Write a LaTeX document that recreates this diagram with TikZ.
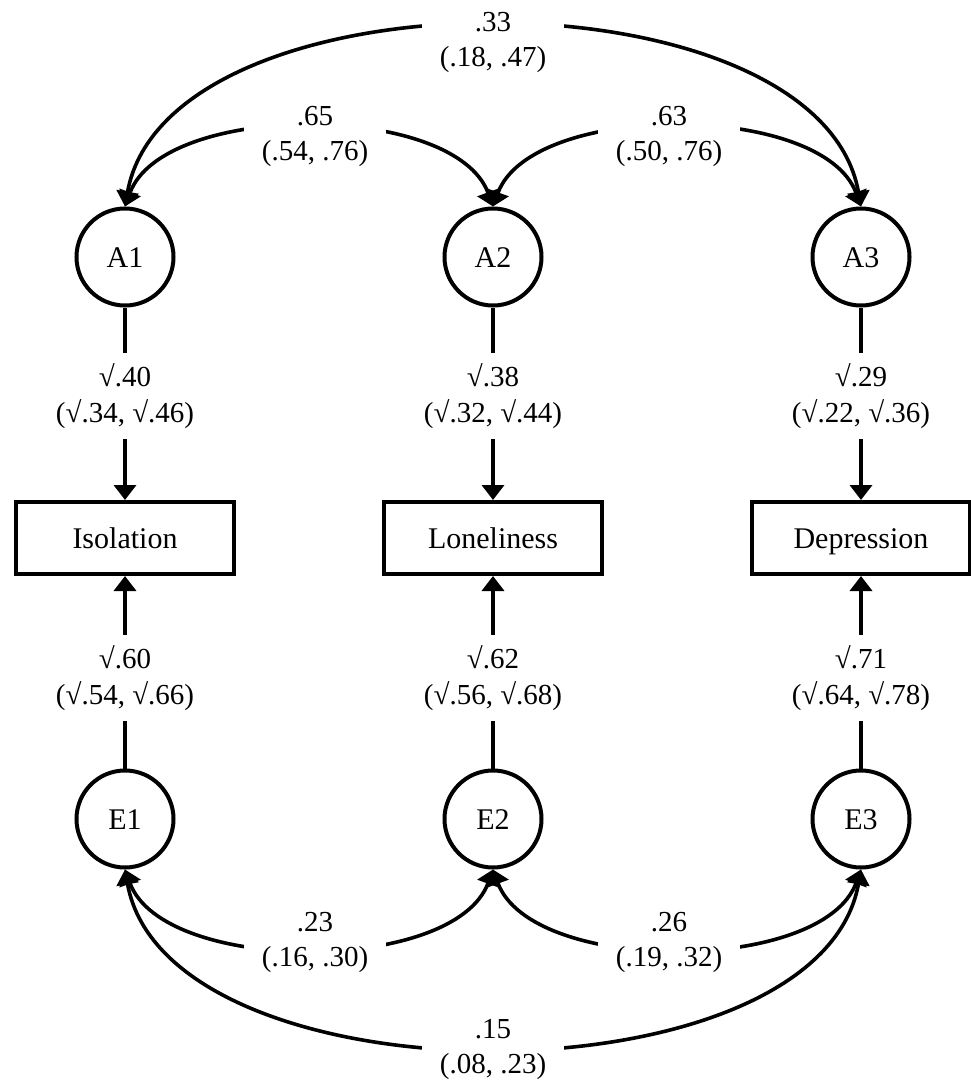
\documentclass[tikz,border=0pt]{standalone}
\usepackage{fontspec}
\setmainfont{Liberation Serif}
\usepackage{tikz}
\usetikzlibrary{arrows.meta}

\tikzset{
	latent/.style={draw,circle,line width=4pt,minimum size=97pt,inner sep=0pt,text height=20pt,text depth=0pt,font=\fontsize{30}{36}\selectfont},
	observed/.style={draw,rectangle,line width=4pt,minimum width=218pt,minimum height=72pt,text height=20pt,text depth=0pt,font=\fontsize{30}{36}\selectfont},
	loading/.style={align=center,inner xsep=4pt,inner ysep=9pt,font=\fontsize{29}{36}\selectfont},
	covlabel/.style={fill=white,align=center,inner xsep=18pt,inner ysep=2pt,font=\fontsize{29}{35}\selectfont},
}

\begin{document}
\begin{tikzpicture}[x=1pt,y=1pt,line width=3.6pt,>={Triangle[length=15pt,width=22pt]}]
		\useasboundingbox (0,0) rectangle (971,-1081);
		
		\node[latent](A1)at(125,-257) {A1};
		\node[latent](A2)at(493,-257) {A2};
		\node[latent](A3)at(861,-257) {A3};
		
		\node[observed](iso)at(125,-538) {Isolation};
		\node[observed](lon)at(493,-538) {Loneliness};
		\node[observed](dep)at(861,-538) {Depression};
		
		\node[latent](E1)at(125,-819) {E1};
		\node[latent](E2)at(493,-819) {E2};
		\node[latent](E3)at(861,-819) {E3};
		
		\node[loading](a1)at(125,-396) {√.40\\(√.34, √.46)};
		\node[loading](a2)at(493,-396) {√.38\\(√.32, √.44)};
		\node[loading](a3)at(861,-396) {√.29\\(√.22, √.36)};
		\node[loading](e1)at(125,-678) {√.60\\(√.54, √.66)};
		\node[loading](e2)at(493,-678) {√.62\\(√.56, √.68)};
		\node[loading](e3)at(861,-678) {√.71\\(√.64, √.78)};
		
		\draw(A1) -- (a1);
		\draw(A2) -- (a2);
		\draw(A3) -- (a3);
		\draw[->](a1) -- (iso);
		\draw[->](a2) -- (lon);
		\draw[->](a3) -- (dep);
		\draw[->](e1) -- (iso);
		\draw[->](e2) -- (lon);
		\draw[->](e3) -- (dep);
		\draw(E1) -- (e1);
		\draw(E2) -- (e2);
		\draw(E3) -- (e3);
		
		\draw[<->](A1.north) to[out=80,in=100,looseness=0.85] node[covlabel,yshift=-16pt]{.33\\(.18, .47)} (A3.north);
		\draw[<->](A1.north) to[out=70,in=110,looseness=0.78] node[covlabel,xshift=6pt,yshift=-9pt]{.65\\(.54, .76)} (A2.north);
		\draw[<->](A2.north) to[out=70,in=110,looseness=0.78] node[covlabel,xshift=-8pt,yshift=-9pt]{.63\\(.50, .76)} (A3.north);
		
		\draw[<->](E1.south) to[out=-70,in=-110,looseness=0.78] node[covlabel,xshift=6pt,yshift=6pt]{.23\\(.16, .30)} (E2.south);
		\draw[<->](E2.south) to[out=-70,in=-110,looseness=0.78] node[covlabel,xshift=-8pt,yshift=6pt]{.26\\(.19, .32)} (E3.south);
		\draw[<->](E1.south) to[out=-80,in=-100,looseness=0.84] node[covlabel,yshift=-2pt]{.15\\(.08, .23)} (E3.south);
	\end{tikzpicture}
\end{document}
